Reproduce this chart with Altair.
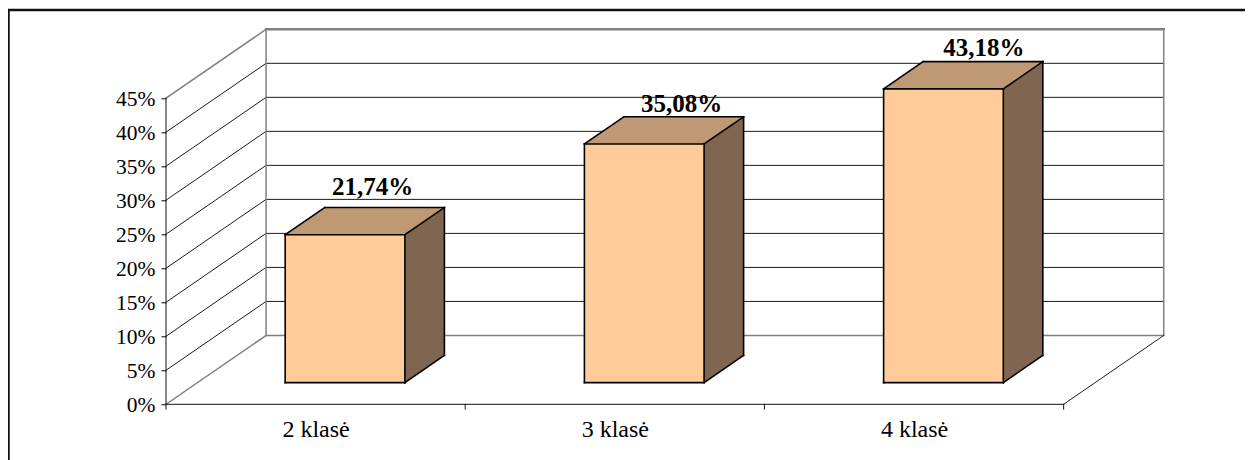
import json
import altair as alt
import pandas as pd

# ---- chart values ----
categories = ["2 klasė", "3 klasė", "4 klasė"]
values = [21.74, 35.08, 43.18]
value_labels = ["21,74%", "35,08%", "43,18%"]
y_ticks = [0, 5, 10, 15, 20, 25, 30, 35, 40, 45]

# ---- layout of the oblique 3-D box (data units) ----
DX, DY = 0.3344, 10.12      # full depth of the box in x (category units) and y (percent)
D0, D1 = 0.315, 0.71        # depth of the front and the back of each bar
HALF = 0.2                  # half a bar, in category units
BAR_SHIFT = -0.007          # bars sit slightly left of the category centre
X_MAX, Y_MAX = 3 + DX, 45 + DY
W, H = 997.7, 375
PAD = {"left": 158, "top": 21.3, "right": 81.3, "bottom": 55.7}
FONT = "Liberation Serif"
label_nudge = [(0.027, 1.04), (0.06, 0.0), (0.07, 0.05)]   # fine shift of each value label


def P(x, y, d):
    return x + d * DX, y + d * DY


def seg_df(pairs):
    rows = []
    for a, b in pairs:
        rows.append({"x": a[0], "y": a[1], "x2": b[0], "y2": b[1]})
    return pd.DataFrame(rows)


sx = alt.Scale(domain=[0, X_MAX], nice=False, zero=False)
sy = alt.Scale(domain=[0, Y_MAX], nice=False, zero=False)

x_axis = alt.Axis(
    values=[i + 0.5 for i in range(len(categories))],
    labelExpr=f"{json.dumps(categories, ensure_ascii=False)}[datum.value - 0.5]",
    domain=False, ticks=False, grid=False, labelFont=FONT, labelFontSize=24,
    labelColor="#000000", labelPadding=13, labelOverlap=False, labelFlush=False,
)
y_axis = alt.Axis(
    values=y_ticks, labelExpr="datum.value + '%'",
    domain=False, ticks=True, tickSize=5, tickColor="#000000", tickWidth=1, grid=False,
    labelFont=FONT, labelFontSize=21.5, labelColor="#000000", labelPadding=6, labelOffset=1,
    labelOverlap=False, labelFlush=False,
)


def X(f="x"):
    return alt.X(f"{f}:Q", scale=sx, axis=x_axis, title=None)


def Y(f="y"):
    return alt.Y(f"{f}:Q", scale=sy, axis=y_axis, title=None)


def rules(pairs, color, width):
    return alt.Chart(seg_df(pairs)).mark_rule(color=color, strokeWidth=width, strokeCap="square").encode(
        x=X(), x2="x2:Q", y=Y(), y2="y2:Q"
    )


layers = []

# inner gridlines on the two walls
grid = []
for t in y_ticks[1:-1]:
    grid.append((P(0, t, 0), P(0, t, 1)))
    grid.append((P(0, t, 1), P(3, t, 1)))
layers.append(rules(grid, "#1a1a1a", 1))

# grey frame of the back wall and grey wall edges
frame = [
    (P(0, 0, 1), P(0, 45, 1)),
    (P(3, 0, 1), P(3, 45, 1)),
    (P(0, 0, 1), P(3, 0, 1)),
    (P(0, 0, 0), P(0, 0, 1)),
    (P(0, 45, 0), P(0, 45, 1)),
]
layers.append(rules(frame, "#808080", 1.5))
layers.append(rules([(P(0, 45, 1), P(3, 45, 1))], "#808080", 2.5))

# floor edge on the right, front axis lines, axis ticks
layers.append(rules([(P(3, 0, 0), P(3, 0, 1))], "#222222", 1))
layers.append(rules(
    [(P(0, 0, 0), P(0, 45, 0)), (P(0, 0, 0), P(3, 0, 0))]
    + [((i, 0), (i, -0.7)) for i in range(4)],
    "#111111", 1,
))

# bars
side_rows, top_rows, front_rows, edges, label_rows = [], [], [], [], []
for i, v in enumerate(values):
    c = i + 0.5 + BAR_SHIFT
    l, r = c - HALF, c + HALF
    for d in (D0, D1):
        px, py0 = P(r, 0, d)
        _, py1 = P(r, v, d)
        side_rows.append({"bar": i, "x": px, "y": py0, "y2": py1})
    for d in (D0, D1):
        pxl, py = P(l, v, d)
        pxr, _ = P(r, v, d)
        top_rows.append({"bar": i, "x": pxl, "x2": pxr, "y": py})
    fl, fb = P(l, 0, D0)
    fr, ft = P(r, v, D0)
    front_rows.append({"bar": i, "x": fl, "x2": fr, "y": fb, "y2": ft})
    edges += [
        (P(l, 0, D0), P(r, 0, D0)), (P(l, v, D0), P(r, v, D0)),
        (P(l, 0, D0), P(l, v, D0)), (P(r, 0, D0), P(r, v, D0)),
        (P(r, 0, D1), P(r, v, D1)), (P(l, v, D1), P(r, v, D1)),
        (P(l, v, D0), P(l, v, D1)), (P(r, v, D0), P(r, v, D1)),
        (P(r, 0, D0), P(r, 0, D1)),
    ]
    tx, ty = P(c, v, D1)
    label_rows.append({
        "x": tx - 0.067 + label_nudge[i][0],
        "y": ty + label_nudge[i][1],
        "t": value_labels[i],
    })

layers.append(alt.Chart(pd.DataFrame(side_rows)).mark_area(color="#806650", opacity=1, interpolate="linear").encode(
    x=X(), y=Y(), y2="y2:Q", detail="bar:N"))
layers.append(alt.Chart(pd.DataFrame(top_rows)).mark_area(color="#BF9973", orient="horizontal", opacity=1, interpolate="linear").encode(
    y=Y(), x=X(), x2="x2:Q", detail="bar:N"))
layers.append(alt.Chart(pd.DataFrame(front_rows)).mark_rect(color="#FFCC99", opacity=1).encode(
    x=X(), x2="x2:Q", y=Y(), y2="y2:Q"))
layers.append(rules(edges, "#000000", 1.6))

layers.append(alt.Chart(pd.DataFrame(label_rows)).mark_text(
    font=FONT, fontSize=25, fontWeight="bold", color="#000000", baseline="alphabetic", align="center", dy=-5
).encode(x=X(), y=Y(), text="t:N"))

# outer frame: top and left edges only
layers.append(alt.Chart(pd.DataFrame({"a": [0]})).mark_rule(color="#111111", strokeWidth=2.5).encode(
    x=alt.value(-158), x2=alt.value(W + PAD["right"]), y=alt.value(-19.3)))
layers.append(alt.Chart(pd.DataFrame({"a": [0]})).mark_rule(color="#111111", strokeWidth=2.5).encode(
    x=alt.value(-157.5), y=alt.value(-19.3), y2=alt.value(H + PAD["bottom"])))

chart = alt.layer(*layers).properties(
    width=W, height=H, padding=PAD, autosize=alt.AutoSizeParams(type="none"), background="#ffffff"
).configure_view(stroke=None)

chart.save("out.html", embed_options={"renderer": "svg", "actions": False})
